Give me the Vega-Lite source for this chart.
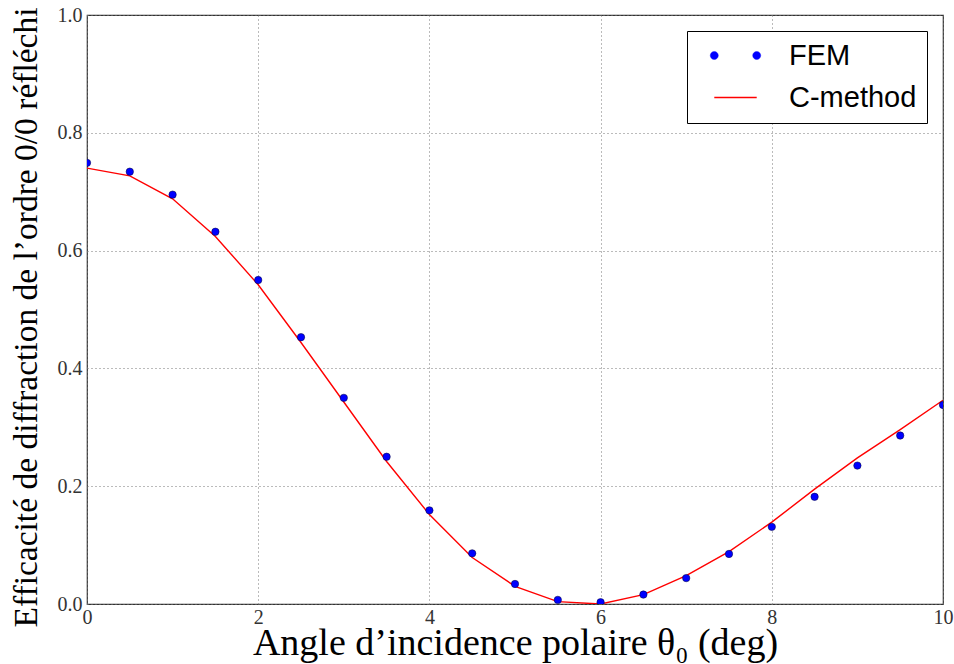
{
  "$schema": "https://vega.github.io/schema/vega-lite/v6.json",
  "width": 856,
  "height": 589,
  "autosize": "none",
  "padding": {"left": 87, "top": 15, "right": 11, "bottom": 60},
  "background": "white",
  "config": {
    "view": {"stroke": "#333", "strokeWidth": 1.2},
    "font": "Liberation Serif"
  },
  "data": {
    "values": [
      {"angle": 0, "value": 0.749, "method": "FEM"},
      {"angle": 0.5, "value": 0.734, "method": "FEM"},
      {"angle": 1, "value": 0.695, "method": "FEM"},
      {"angle": 1.5, "value": 0.632, "method": "FEM"},
      {"angle": 2, "value": 0.550, "method": "FEM"},
      {"angle": 2.5, "value": 0.453, "method": "FEM"},
      {"angle": 3, "value": 0.350, "method": "FEM"},
      {"angle": 3.5, "value": 0.250, "method": "FEM"},
      {"angle": 4, "value": 0.159, "method": "FEM"},
      {"angle": 4.5, "value": 0.086, "method": "FEM"},
      {"angle": 5, "value": 0.034, "method": "FEM"},
      {"angle": 5.5, "value": 0.007, "method": "FEM"},
      {"angle": 6, "value": 0.003, "method": "FEM"},
      {"angle": 6.5, "value": 0.016, "method": "FEM"},
      {"angle": 7, "value": 0.044, "method": "FEM"},
      {"angle": 7.5, "value": 0.085, "method": "FEM"},
      {"angle": 8, "value": 0.131, "method": "FEM"},
      {"angle": 8.5, "value": 0.182, "method": "FEM"},
      {"angle": 9, "value": 0.235, "method": "FEM"},
      {"angle": 9.5, "value": 0.286, "method": "FEM"},
      {"angle": 10, "value": 0.338, "method": "FEM"},
      {"angle": 0, "value": 0.740, "method": "C-method"},
      {"angle": 0.5, "value": 0.727, "method": "C-method"},
      {"angle": 1, "value": 0.688, "method": "C-method"},
      {"angle": 1.5, "value": 0.624, "method": "C-method"},
      {"angle": 2, "value": 0.542, "method": "C-method"},
      {"angle": 2.5, "value": 0.444, "method": "C-method"},
      {"angle": 3, "value": 0.343, "method": "C-method"},
      {"angle": 3.5, "value": 0.242, "method": "C-method"},
      {"angle": 4, "value": 0.152, "method": "C-method"},
      {"angle": 4.5, "value": 0.079, "method": "C-method"},
      {"angle": 5, "value": 0.030, "method": "C-method"},
      {"angle": 5.5, "value": 0.004, "method": "C-method"},
      {"angle": 6, "value": 0.000, "method": "C-method"},
      {"angle": 6.5, "value": 0.016, "method": "C-method"},
      {"angle": 7, "value": 0.048, "method": "C-method"},
      {"angle": 7.5, "value": 0.089, "method": "C-method"},
      {"angle": 8, "value": 0.139, "method": "C-method"},
      {"angle": 8.5, "value": 0.195, "method": "C-method"},
      {"angle": 9, "value": 0.248, "method": "C-method"},
      {"angle": 9.5, "value": 0.296, "method": "C-method"},
      {"angle": 10, "value": 0.346, "method": "C-method"}
    ]
  },
  "encoding": {
    "x": {
      "field": "angle",
      "type": "quantitative",
      "scale": {"domain": [0, 10], "nice": false, "zero": false},
      "axis": {
        "title": "Angle d’incidence polaire θ₀ (deg)",
        "values": [0, 2, 4, 6, 8, 10],
        "format": "d",
        "domain": false,
        "grid": true,
        "gridColor": "#777",
        "gridDash": [1, 3],
        "gridWidth": 1,
        "ticks": false,
        "labelPadding": 3,
        "labelFlush": false,
        "labelOverlap": false,
        "labelFont": "Liberation Serif",
        "labelFontSize": 20,
        "labelColor": "#333",
        "titleFont": "Liberation Serif",
        "titleFontSize": 38,
        "titleFontWeight": "normal",
        "titleColor": "#000",
        "titlePadding": -3
      }
    },
    "y": {
      "field": "value",
      "type": "quantitative",
      "scale": {"domain": [0, 1], "nice": false},
      "axis": {
        "title": "Efficacité de diffraction de l’ordre 0/0 réfléchi",
        "values": [0, 0.2, 0.4, 0.6, 0.8, 1.0],
        "format": ".1f",
        "domain": false,
        "grid": true,
        "gridColor": "#777",
        "gridDash": [1, 3],
        "gridWidth": 1,
        "ticks": false,
        "labelPadding": 5,
        "labelFlush": false,
        "labelOverlap": false,
        "labelFont": "Liberation Serif",
        "labelFontSize": 20,
        "labelColor": "#333",
        "titleFont": "Liberation Serif",
        "titleFontSize": 33.5,
        "titleFontWeight": "normal",
        "titleColor": "#000",
        "titlePadding": 14,
        "titleY": 302
      }
    },
    "color": {
      "field": "method",
      "type": "nominal",
      "scale": {"domain": ["FEM", "C-method"], "range": ["#0000ff", "#ff0000"]},
      "legend": {
        "title": null,
        "orient": "top-right",
        "offset": 16,
        "padding": 10,
        "symbolOffset": 24,
        "labelOffset": 39,
        "labelFont": "Liberation Sans",
        "labelFontSize": 29,
        "labelColor": "#000",
        "rowPadding": 12,
        "strokeColor": "#000",
        "fillColor": "#fff",
        "symbolSize": 1800,
        "encode": {
          "symbols": {
            "update": {
              "shape": {"signal": "datum.value === 'FEM' ? 'M-1.19,0A0.19,0.19,0,1,1,-0.81,0A0.19,0.19,0,1,1,-1.19,0Z M0.81,0A0.19,0.19,0,1,1,1.19,0A0.19,0.19,0,1,1,0.81,0Z' : 'M-1,0H1'"},
              "fill": {"signal": "datum.value === 'FEM' ? '#0000ff' : 'transparent'"},
              "stroke": {"signal": "datum.value === 'FEM' ? '#000033' : '#ff0000'"},
              "strokeWidth": {"signal": "datum.value === 'FEM' ? 0.4 : 1.5"},
              "opacity": {"value": 1},
              "size": {"value": 1800}
            }
          }
        }
      }
    }
  },
  "layer": [
    {
      "transform": [{"filter": "datum.method === 'C-method'"}],
      "mark": {"type": "line", "strokeWidth": 1.4, "clip": true}
    },
    {
      "transform": [{"filter": "datum.method === 'FEM'"}],
      "mark": {"type": "point", "filled": true, "size": 55, "opacity": 1, "stroke": "#000033", "strokeWidth": 0.5, "clip": true}
    }
  ]
}
